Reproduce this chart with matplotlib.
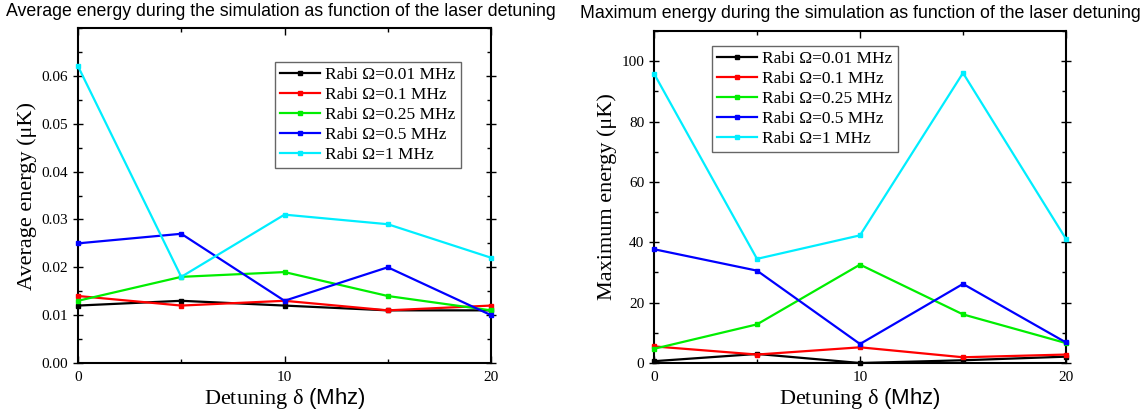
import matplotlib
matplotlib.use("Agg")
import matplotlib.pyplot as plt
from matplotlib.ticker import MultipleLocator

plt.rcParams['font.family'] = ['Liberation Serif', 'DejaVu Serif']
plt.rcParams['mathtext.fontset'] = 'custom'
plt.rcParams['mathtext.rm'] = 'Liberation Serif'
plt.rcParams['mathtext.sf'] = 'Liberation Sans'

detuning = [0, 5, 10, 15, 20]
labels = ["Rabi Ω=0.01 MHz", "Rabi Ω=0.1 MHz", "Rabi Ω=0.25 MHz",
          "Rabi Ω=0.5 MHz", "Rabi Ω=1 MHz"]
colors = ['#000000', '#FF0000', '#00EE00', '#0000FF', '#00EEFF']

avg_001 = [0.012, 0.013, 0.012, 0.011, 0.011]
avg_01 = [0.014, 0.012, 0.013, 0.011, 0.012]
avg_025 = [0.013, 0.018, 0.019, 0.014, 0.011]
avg_05 = [0.025, 0.027, 0.013, 0.020, 0.010]
avg_1 = [0.062, 0.018, 0.031, 0.029, 0.022]

max_001 = [0.6, 3.0, 0.0, 0.9, 2.1]
max_01 = [5.5, 2.8, 5.2, 1.9, 2.8]
max_025 = [4.7, 12.8, 32.6, 16.1, 6.6]
max_05 = [37.7, 30.6, 6.3, 26.2, 6.8]
max_1 = [95.9, 34.5, 42.3, 96.1, 41.1]

avg_series = [avg_001, avg_01, avg_025, avg_05, avg_1]
max_series = [max_001, max_01, max_025, max_05, max_1]

fig = plt.figure(figsize=(11.48, 4.17), dpi=100)
ax1 = fig.add_axes([78/1148, 54/417, 413/1148, 335/417])
ax2 = fig.add_axes([654/1148, 54/417, 412/1148, 332/417])


def style(ax, ymajor, yminor):
    ax.set_xlim(0, 20)
    ax.xaxis.set_major_locator(MultipleLocator(10))
    ax.xaxis.set_minor_locator(MultipleLocator(5))
    ax.yaxis.set_major_locator(MultipleLocator(ymajor))
    ax.yaxis.set_minor_locator(MultipleLocator(yminor))
    ax.tick_params(axis='x', which='both', direction='in', top=True,
                   labelsize=11, pad=6)
    ax.tick_params(axis='x', which='major', length=5, width=1)
    ax.tick_params(axis='x', which='minor', length=3, width=1)
    ax.tick_params(axis='y', which='major', direction='inout', length=7,
                   width=1, labelsize=11, right=True)
    ax.tick_params(axis='y', which='minor', direction='in', length=3,
                   width=1, right=True)
    for s in ax.spines.values():
        s.set_linewidth(1.5)


for ys, c, lab in zip(avg_series, colors, labels):
    ax1.plot(detuning, ys, color=c, lw=1.6, marker='s', ms=3, label=lab,
             clip_on=False, zorder=3)
ax1.set_ylim(0, 0.07)
style(ax1, 0.01, 0.005)
ax1.yaxis.set_major_formatter(matplotlib.ticker.FormatStrFormatter('%.2f'))
ax1.set_yticks([0, 0.01, 0.02, 0.03, 0.04, 0.05, 0.06])
ax1.set_ylabel("Average energy (μK)", fontsize=16, labelpad=3)
ax1.set_xlabel(r"Detuning δ $\mathsf{(Mhz)}$", fontsize=16, labelpad=1)

for ys, c, lab in zip(max_series, colors, labels):
    ax2.plot(detuning, ys, color=c, lw=1.6, marker='s', ms=3, label=lab,
             clip_on=False, zorder=3)
ax2.set_ylim(0, 110)
style(ax2, 20, 10)
ax2.set_yticks([0, 20, 40, 60, 80, 100])
ax2.set_ylabel("Maximum energy (μK)", fontsize=16, labelpad=3)
ax2.set_xlabel(r"Detuning δ $\mathsf{(Mhz)}$", fontsize=16, labelpad=1)

leg_kw = dict(fontsize=12.5, frameon=True, fancybox=False, framealpha=1,
              edgecolor='#666666', handlelength=2.3, handletextpad=0.3,
              borderpad=0.3, labelspacing=0.22, borderaxespad=0)
l1 = ax1.legend(loc='upper right', bbox_to_anchor=(0.927, 0.899), **leg_kw)
l2 = ax2.legend(loc='upper left', bbox_to_anchor=(0.141, 0.955), **leg_kw)
for l in (l1, l2):
    l.get_frame().set_linewidth(1.0)

fig.text(281/1148, 1 - 12/417,
         "Average energy during the simulation as function of the laser detuning",
         ha='center', va='center', fontsize=12.8, family='Liberation Sans')
fig.text(860/1148, 1 - 14/417,
         "Maximum energy during the simulation as function of the laser detuning",
         ha='center', va='center', fontsize=12.8, family='Liberation Sans')

fig.savefig("out.png", dpi=100)
